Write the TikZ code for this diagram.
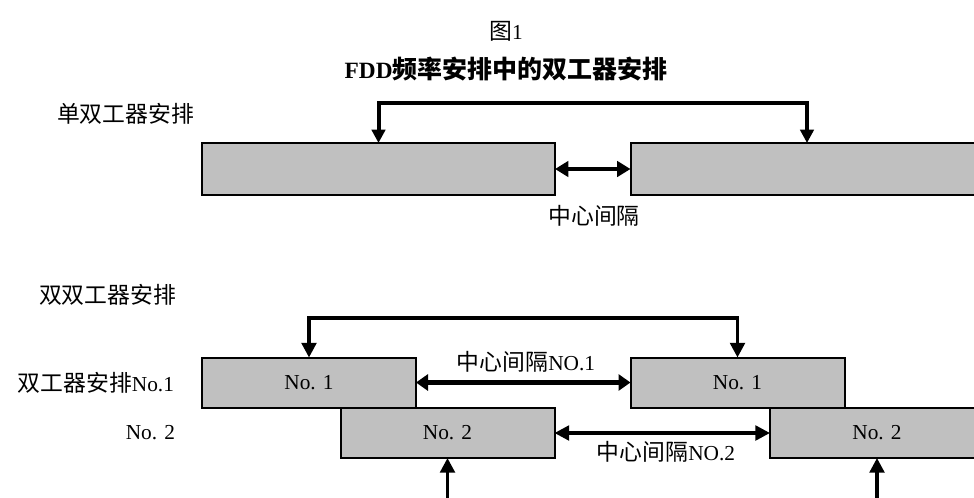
\documentclass[tikz,border=0pt]{standalone}
\usepackage{fontspec}
\setmainfont{Liberation Serif}
\newfontfamily\cjk[Scale=1.07]{Noto Sans CJK SC}
\usetikzlibrary{arrows.meta}
\definecolor{boxgray}{RGB}{192,192,192}
\begin{document}
\begin{tikzpicture}[x=0.75pt,y=-0.75pt,
  every node/.style={font=\fontsize{16}{19}\selectfont, inner sep=0pt, outer sep=0pt},
  bigbox/.style={draw=black, line width=1.5pt, fill=boxgray, minimum width=264.75pt, minimum height=39pt},
  smallbox/.style={draw=black, line width=1.5pt, fill=boxgray, minimum width=160.5pt, minimum height=37.5pt},
  bracket/.style={line width=3pt, {Triangle[length=10pt,width=10pt]}-{Triangle[length=10pt,width=10pt]}},
  thinbracket/.style={line width=2.5pt, {Triangle[length=11pt,width=11pt]}-{Triangle[length=11pt,width=11pt]}},
  gapbig/.style={line width=4pt, {Triangle[length=9pt,width=12pt]}-{Triangle[length=9pt,width=12pt]}},
  gapmid/.style={line width=3pt, {Triangle[length=10pt,width=11.5pt]}-{Triangle[length=10pt,width=11.5pt]}},
  gapsmall/.style={line width=2.5pt, {Triangle[length=11pt,width=11pt]}-{Triangle[length=11pt,width=11pt]}},
  feed/.style={line width=2.5pt, -{Triangle[length=11pt,width=11pt]}}
]
\useasboundingbox (0,0) rectangle (974,497);
\clip (0,0) rectangle (974,497);

% titles
\node (fig) at (506,31) {{\cjk 图}1};
\node (title) at (506,69) {\fontsize{17.5}{21}\selectfont\bfseries FDD{\cjk 频率安排中的双工器安排}};

% single duplexer arrangement
\node[anchor=west] (single) at (57,114) {\cjk 单双工器安排};
\node[bigbox] (A) at (378.5,169) {};
\node[bigbox] (B) at (807,169) {};
\coordinate (bar1) at (590,103);
\draw[bracket] (A.north) |- (bar1) -| (B.north);
\draw[gapmid] (A.east) -- (B.west);
\node (cs) at (594,216) {\cjk 中心间隔};

% dual duplexer arrangement
\node[anchor=west] (dual) at (39,295) {\cjk 双双工器安排};
\node[anchor=east] (lab1) at (174,383) {{\cjk 双工器安排}No.1};
\node[anchor=east] (lab2) at (175,433) {No. 2};

\node[smallbox] (N1L) at (309,382.5) {No. 1};
\node[smallbox] (N1R) at (737.5,382.5) {No. 1};
\node[smallbox] (N2L) at (447.5,433) {No. 2};
\node[smallbox] (N2R) at (877,433) {No. 2};

\coordinate (bar2) at (520,318);
\draw[thinbracket] (N1L.north) |- (bar2) -| (N1R.north);
\draw[gapbig] (N1L.east) -- (N1R.west);
\draw[gapsmall] (N2L.east) -- (N2R.west);
\node (cs1) at (526,362) {{\cjk 中心间隔}NO.1};
\node (cs2) at (666,452) {{\cjk 中心间隔}NO.2};

\coordinate (in1) at (447.5,505);
\coordinate (in2) at (877,505);
\draw[feed] (in1) -- (N2L.south);
\draw[feed] (in2) -- (N2R.south);
\end{tikzpicture}
\end{document}
